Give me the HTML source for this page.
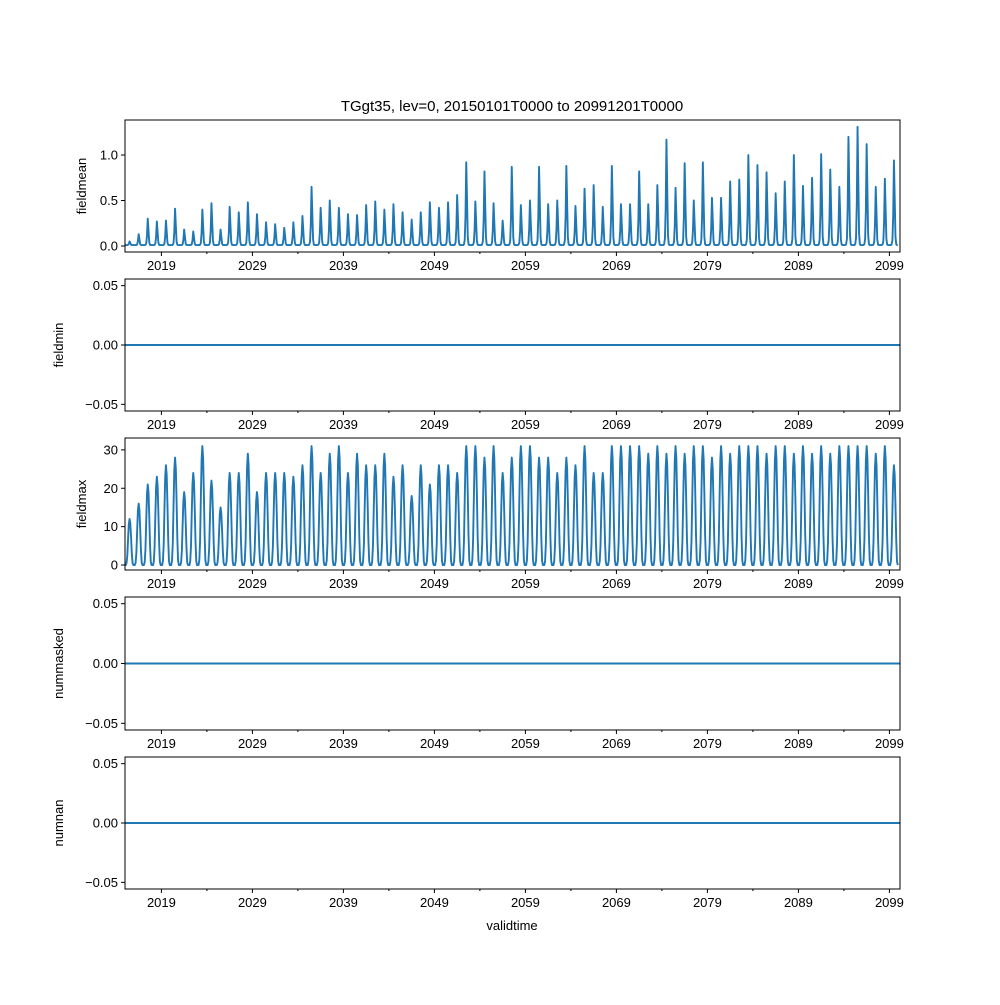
<!DOCTYPE html>
<html><head><meta charset="utf-8"><style>
html,body{margin:0;padding:0;background:#fff;}
svg text{font-family:"Liberation Sans","DejaVu Sans",sans-serif;fill:#000;}
</style></head><body>
<svg id="chart" width="1000" height="1000" xmlns="http://www.w3.org/2000/svg"></svg>
<script>
const years = [];
for (let y = 2015; y <= 2099; y++) years.push(y);
const meanPeaks = [0.05,0.13,0.30,0.27,0.28,0.41,0.18,0.16,0.40,0.47,0.18,0.43,0.37,0.48,0.35,0.26,0.24,0.20,0.26,0.33,0.65,0.42,0.50,0.42,0.35,0.34,0.45,0.49,0.40,0.46,0.37,0.29,0.37,0.48,0.42,0.48,0.56,0.92,0.49,0.82,0.47,0.28,0.87,0.45,0.50,0.87,0.46,0.50,0.88,0.44,0.63,0.67,0.43,0.88,0.46,0.46,0.82,0.46,0.67,1.17,0.64,0.91,0.50,0.92,0.53,0.53,0.71,0.73,1.00,0.89,0.81,0.58,0.71,1.00,0.66,0.75,1.01,0.84,0.65,1.20,1.31,1.12,0.65,0.74,0.94];
const maxPeaks = [12,16,21,23,26,28,19,24,31,22,15,24,24,29,19,24,24,24,23,26,31,24,29,31,24,29,26,26,29,23,26,18,26,21,26,26,24,31,31,28,31,24,28,31,31,28,28,24,28,26,31,24,24,31,31,31,31,29,31,29,31,29,31,31,28,31,29,31,31,31,29,31,31,29,31,29,31,29,31,31,31,31,29,31,26];
const meanShape = [0,0,0,0.01,0.06,0.35,1.0,0.55,0.1,0.01,0,0];
const maxShape = [0,0,0.04,0.2,0.55,0.88,1.0,0.9,0.6,0.25,0.04,0];
const xTickLabels = ["2019","2029","2039","2049","2059","2069","2079","2089","2099"];
const xMinorYears = [2024,2034,2044,2054,2064,2074,2084,2094];

const svg = document.getElementById('chart');
const NS = 'http://www.w3.org/2000/svg';
function mk(tag, attrs, parent){const e=document.createElementNS(NS,tag);for(const k in attrs)e.setAttribute(k,attrs[k]);(parent||svg).appendChild(e);return e;}
const L=125,R=900;
const xS = t => L + (t-2015)*9.1;
const fmt2 = v => (v<0?'\u2212':'')+Math.abs(v).toFixed(2);

const panels = [
 {name:'fieldmean', top:120, bot:252, ymin:-0.066, ymax:1.385, ticks:[0,0.5,1.0], fmt:v=>v.toFixed(1), peaks:meanPeaks, shape:meanShape, base:0.01},
 {name:'fieldmin', top:279, bot:411, ymin:-0.0556, ymax:0.0556, ticks:[-0.05,0,0.05], fmt:fmt2},
 {name:'fieldmax', top:438, bot:570, ymin:-1.3, ymax:33.1, ticks:[0,10,20,30], fmt:v=>String(v), peaks:maxPeaks, shape:maxShape, base:0},
 {name:'nummasked', top:597, bot:730, ymin:-0.0556, ymax:0.0556, ticks:[-0.05,0,0.05], fmt:fmt2},
 {name:'numnan', top:757, bot:889, ymin:-0.0556, ymax:0.0556, ticks:[-0.05,0,0.05], fmt:fmt2}
];

const title = mk('text',{x:512,y:111,'text-anchor':'middle','font-size':'15'});


title.textContent='TGgt35, lev=0, 20150101T0000 to 20991201T0000';

panels.forEach(p=>{
  const g = mk('g',{});
  
  
  const yS = v => p.bot - (v-p.ymin)/(p.ymax-p.ymin)*(p.bot-p.top);
  const cid = 'clip-'+p.name;
  const cp = mk('clipPath',{id:cid},g); mk('rect',{x:L,y:p.top,width:R-L,height:p.bot-p.top},cp);
  let pts=[];
  if (p.peaks){
    years.forEach((y,i)=>{ for(let m=0;m<12;m++){ pts.push([xS(y+m/12), yS(p.base + p.shape[m]*(p.peaks[i]-p.base))]); } });
  } else {
    pts=[[xS(2015),yS(0)],[xS(2100.5),yS(0)]];
  }
  const line = mk('polyline',{points:pts.map(q=>q[0].toFixed(2)+','+q[1].toFixed(2)).join(' '),fill:'none',stroke:'#1f77b4','stroke-width':'1.9','stroke-linejoin':'round','clip-path':'url(#'+cid+')'},g);
  
  
  const fr = mk('rect',{x:L,y:p.top,width:R-L,height:p.bot-p.top,fill:'none',stroke:'#000','stroke-width':'1'},g);
  
  
  p.ticks.forEach(v=>{
    const y=yS(v);
    mk('line',{x1:L-4,x2:L,y1:y,y2:y,stroke:'#000'},g);
    const t=mk('text',{x:L-7,y:y+4.5,'text-anchor':'end','font-size':'13'},g);
    
    
    t.textContent=p.fmt(v);
  });
  xTickLabels.forEach(s=>{
    const x=xS(+s);
    mk('line',{x1:x,x2:x,y1:p.bot,y2:p.bot+4,stroke:'#000'},g);
    const t=mk('text',{x:x,y:p.bot+18,'text-anchor':'middle','font-size':'13'},g);
    
    
    t.textContent=s;
  });
  xMinorYears.forEach(yy=>{const x=xS(yy); mk('line',{x1:x,x2:x,y1:p.bot,y2:p.bot+2,stroke:'#000'},g);});
  const cy=(p.top+p.bot)/2;
  const lab=mk('text',{x:0,y:0,'text-anchor':'middle','font-size':'13',transform:'translate('+(p.name==='fieldmean'||p.name==='fieldmax'?86:63)+','+cy+') rotate(-90)'},g);
  
  
  lab.textContent=p.name;
});
const xl = mk('text',{x:512,y:930,'text-anchor':'middle','font-size':'13'});


xl.textContent='validtime';
</script>
</body></html>
